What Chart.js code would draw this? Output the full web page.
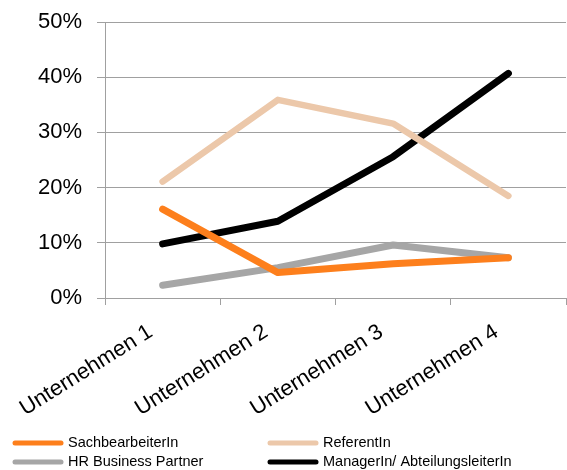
<!DOCTYPE html>
<html>
<head>
<meta charset="utf-8">
<script src="https://cdn.jsdelivr.net/npm/chart.js@4"></script>
<style>
  html, body { margin: 0; padding: 0; background: #fff; }
  #wrap { width: 567px; height: 470px; }
</style>
</head>
<body>
<div id="wrap"><canvas id="chart" width="567" height="470"></canvas></div>
<script>
// Kategorien und Werte (in %)
const categories = ["Unternehmen 1", "Unternehmen 2", "Unternehmen 3", "Unternehmen 4"]
const sachbearbeiter = [16.1, 4.6, 6.2, 7.3]
const referent = [21.1, 35.9, 31.6, 18.5]
const hrBusinessPartner = [2.3, 5.5, 9.6, 7.3]
const manager = [9.8, 13.9, 25.6, 40.7]
const seriesNames = ["SachbearbeiterIn", "ReferentIn", "HR Business Partner", "ManagerIn/ AbteilungsleiterIn"]
const yTicks = [0, 10, 20, 30, 40, 50]

const colors = ["#FD7F1C", "#ECC8AA", "#A6A6A6", "#000000"]
const gridColor = "#A0A0A0"
const fontFamily = "'Liberation Sans', Arial, sans-serif"

// Legende in zwei Spalten, wie im Original
const legendPlugin = {
  id: "twoColLegend",
  afterDraw(chart) {
    const ctx = chart.ctx
    const cols = [13, 268]
    const rows = [443, 462]
    ctx.save()
    ctx.font = "14.5px " + fontFamily
    ctx.textBaseline = "middle"
    ctx.textAlign = "left"
    chart.data.datasets.forEach((ds, i) => {
      const x = cols[i % 2]
      const y = rows[Math.floor(i / 2)]
      ctx.strokeStyle = ds.borderColor
      ctx.lineWidth = 5
      ctx.lineCap = "round"
      ctx.beginPath()
      ctx.moveTo(x + 2, y)
      ctx.lineTo(x + 48, y)
      ctx.stroke()
      ctx.fillStyle = "#000"
      ctx.fillText(ds.label, x + 55, y)
    })
    ctx.restore()
  }
}

const seriesData = [sachbearbeiter, referent, hrBusinessPartner, manager]

new Chart(document.getElementById("chart"), {
  type: "line",
  data: {
    labels: categories,
    datasets: seriesData.map((d, i) => ({
      label: seriesNames[i],
      data: d,
      borderColor: colors[i],
      backgroundColor: colors[i],
      borderWidth: i === 1 ? 6.5 : 7,
      borderCapStyle: "round",
      borderJoinStyle: "round",
      pointRadius: 0,
      tension: 0,
    })),
  },
  options: {
    responsive: false,
    animation: false,
    layout: { padding: { top: 22, right: 1, bottom: 50, left: 0 } },
    plugins: {
      legend: { display: false },
      tooltip: { enabled: false },
    },
    scales: {
      x: {
        offset: true,
        grid: { offset: true, drawOnChartArea: false, drawTicks: true, tickLength: 7, color: gridColor },
        border: { color: gridColor },
        ticks: {
          minRotation: 32,
          maxRotation: 32,
          padding: 14,
          labelOffset: -12,
          color: "#000",
          font: { family: fontFamily, size: 22 },
        },
        afterFit(scale) { scale.height = 122 },
      },
      y: {
        min: 0,
        max: 50,
        afterBuildTicks(scale) { scale.ticks = yTicks.map(v => ({ value: v })) },
        grid: { color: gridColor, tickLength: 8 },
        border: { color: gridColor },
        ticks: {
          padding: 15,
          color: "#000",
          font: { family: fontFamily, size: 22 },
          callback: v => v + "%",
        },
        afterFit(scale) {
          scale.width = 105
          // Tick-Padding soll den Plotbereich oben nicht verkleinern
          scale.paddingTop = 0
          scale.paddingBottom = 0
        },
      },
    },
  },
  plugins: [legendPlugin],
})
</script>
</body>
</html>
